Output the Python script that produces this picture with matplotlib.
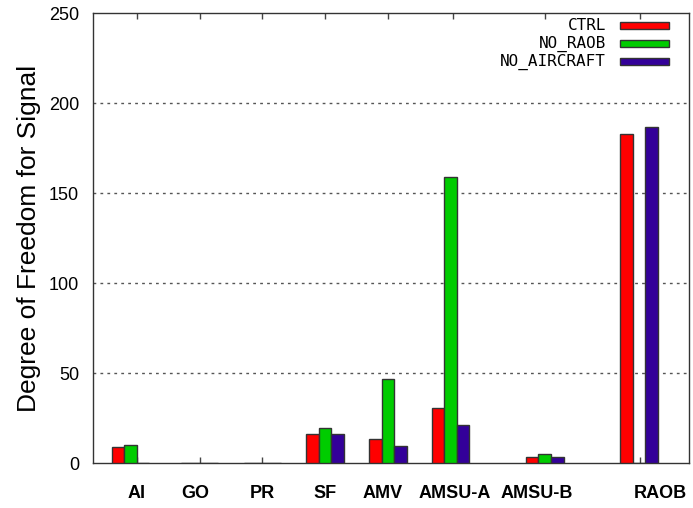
import matplotlib
matplotlib.use('Agg')
import matplotlib.pyplot as plt
from matplotlib.patches import Rectangle

categories = ['AI', 'GO', 'PR', 'SF', 'AMV', 'AMSU-A', 'AMSU-B', 'RAOB']
group_x = [0.6, 1.7, 2.7, 3.7, 4.7, 5.7, 7.2, 8.7]
tick_x = [0.7, 1.7, 2.7, 3.7, 4.7, 5.74, 7.21, 8.72]
label_x = [0.7, 1.63, 2.7, 3.7, 4.62, 5.77, 7.07, 9.04]

ctrl = [8.7, 0, 0, 16.1, 13.3, 30.6, 3.3, 182.6]
no_raob = [10.0, 0, 0, 19.3, 46.5, 158.7, 5.2, 0]
no_aircraft = [0, 0, 0, 16.1, 9.3, 21.3, 3.3, 186.5]

series = [('CTRL', ctrl, '#ff0000'),
          ('NO_RAOB', no_raob, '#00cc00'),
          ('NO_AIRCRAFT', no_aircraft, '#330099')]

yticks = [0, 50, 100, 150, 200, 250]

fig = plt.figure(figsize=(6.93, 5.08), dpi=100)
ax = fig.add_axes([93 / 693, 1 - 463 / 508, 596 / 693, 450 / 508])

w = 0.2
for i, (name, vals, col) in enumerate(series):
    xs = [x + (i - 1) * w for x in group_x]
    ax.bar(xs, vals, width=w, color=col, edgecolor='#333333', linewidth=1.0, zorder=3)

ax.set_xlim(0, 9.5)
ax.set_ylim(0, 250)
for y in yticks[1:-1]:
    ax.axhline(y, color='#555555', linewidth=1.0, linestyle=(0, (2, 3)), zorder=1)

ax.set_xticks(tick_x)
ax.set_xticklabels([])
ax.tick_params(axis='x', direction='in', length=4, width=1, color='#444444', top=True, bottom=True)
ax.set_yticks(yticks)
ax.set_yticklabels([str(v) for v in yticks], fontsize=13, family='Liberation Sans')
ax.tick_params(axis='y', length=0, pad=10)

for lx, lab in zip(label_x, categories):
    ax.text(lx, -17, lab, ha='center', va='center', fontsize=13, fontweight='bold',
            family='Liberation Sans', transform=ax.transData, clip_on=False)

ax.set_ylabel('Degree of Freedom for Signal', fontsize=19, family='Liberation Sans')
ax.yaxis.set_label_coords(-0.088, 0.5)

for s in ax.spines.values():
    s.set_color('#333333')
    s.set_linewidth(1.0)

# key in the upper right, text right-aligned before each swatch
for i, (name, vals, col) in enumerate(series):
    yc = 0.972 - i * 0.040
    ax.add_patch(Rectangle((0.884, yc - 0.0078), 0.082, 0.0156, transform=ax.transAxes,
                           facecolor=col, edgecolor='#333333', linewidth=1.0, zorder=5))
    ax.text(0.861, yc, name, transform=ax.transAxes, ha='right', va='center',
            fontsize=11.5, family='DejaVu Sans Mono')

fig.savefig('out.png', dpi=100)
